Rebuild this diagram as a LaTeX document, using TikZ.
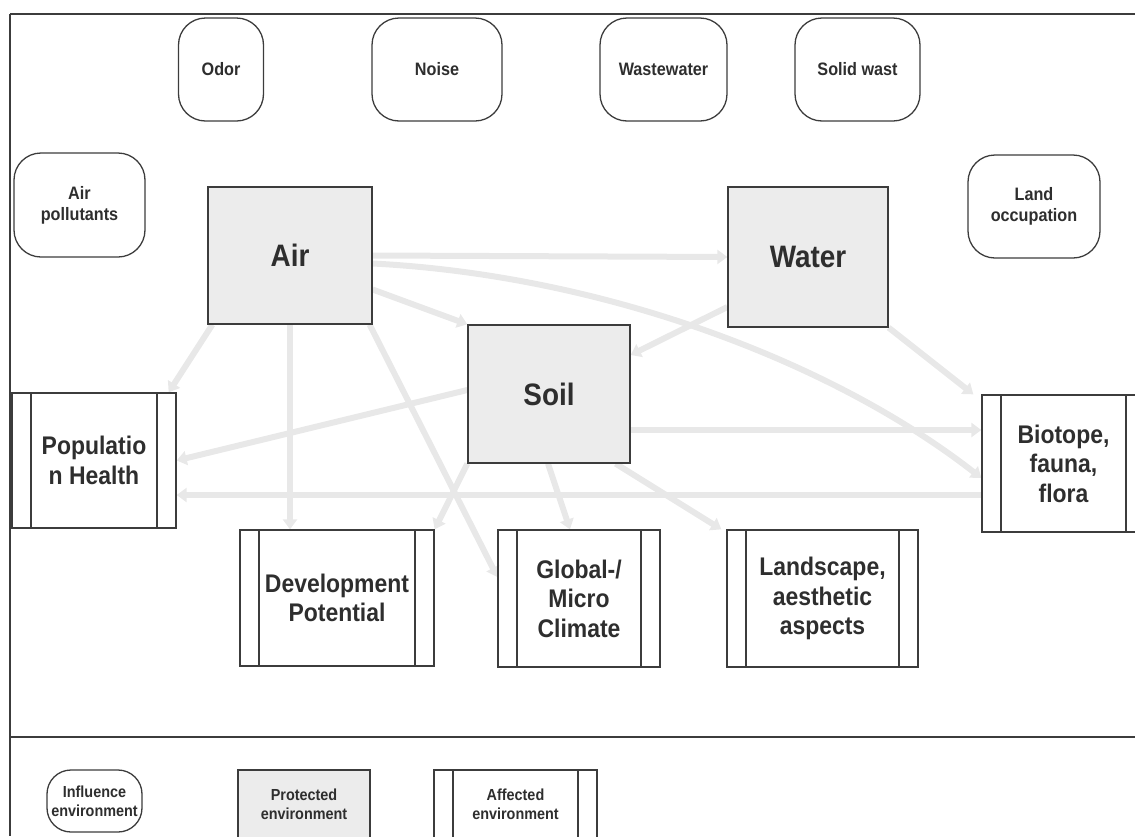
\documentclass[tikz,border=0pt]{standalone}
\usepackage{fontspec}
\setmainfont{Liberation Sans}[FakeStretch=0.9]
\usetikzlibrary{arrows.meta,backgrounds,calc}
\definecolor{boxline}{HTML}{3C3C3C}
\definecolor{protfill}{HTML}{ECECEC}
\definecolor{arrowc}{HTML}{E8E8E8}
\definecolor{txt}{HTML}{2E2E2E}
\begin{document}
\begin{tikzpicture}[x=1pt,y=-1pt,
  box/.style={draw=boxline, line width=1.3pt, align=center, text=txt, inner sep=0pt},
  infl/.style={box, rounded corners=27pt, font=\bfseries\fontsize{18}{21}\selectfont},
  prot/.style={box, fill=protfill, font=\bfseries\fontsize{31}{36}\selectfont},
  affe/.style={box, font=\bfseries\fontsize{25.5}{29.5}\selectfont,
    path picture={\draw[boxline, line width=1.3pt]
      ([xshift=19pt]path picture bounding box.north west) -- ([xshift=19pt]path picture bounding box.south west)
      ([xshift=-19pt]path picture bounding box.north east) -- ([xshift=-19pt]path picture bounding box.south east);}},
  leg/.style={font=\bfseries\fontsize{16}{19}\selectfont},
  conn/.style={draw=arrowc, line width=6pt, -{Triangle[length=10pt,width=14pt]}},
  frame/.style={draw=boxline, line width=1.3pt},
]
\useasboundingbox (0,0) rectangle (1135,836);
\clip (0,0) rectangle (1135,836);

% frame
\draw[frame] (10,14) -- (1135,14);
\draw[frame] (10,14) -- (10,836);
\draw[frame] (10,737) -- (1135,737);

% influence environment
\node[infl, minimum width=85pt, minimum height=103pt] (odor) at (221,69.5) {Odor};
\node[infl, minimum width=130pt, minimum height=103pt] (noise) at (437,69.5) {Noise};
\node[infl, minimum width=127pt, minimum height=103pt] (wastewater) at (663.5,69.5) {Wastewater};
\node[infl, minimum width=125pt, minimum height=103pt] (solid) at (857.5,69.5) {Solid wast};
\node[infl, minimum width=131pt, minimum height=104pt] (airpol) at (79.5,205) {Air\\pollutants};
\node[infl, minimum width=132pt, minimum height=103pt] (landocc) at (1034,206.5) {Land\\occupation};

% protected environment
\node[prot, minimum width=164pt, minimum height=137pt] (air) at (290,255.5) {Air};
\node[prot, minimum width=160pt, minimum height=140pt] (water) at (808,257) {Water};
\node[prot, minimum width=162pt, minimum height=138pt] (soil) at (549,394) {Soil};

% affected environment
\node[affe, minimum width=164pt, minimum height=135pt] (pop) at (94,460.5) {Populatio\\n Health};
\node[affe, minimum width=194pt, minimum height=136pt] (dev) at (337,598) {Development\\Potential};
\node[affe, minimum width=162pt, minimum height=137pt] (glob) at (579,598.5) {Global-/\\Micro\\Climate};
\node[affe, minimum width=191pt, minimum height=137pt] (land) at (822.5,598.5) {Landscape,\\aesthetic\\aspects};
\node[affe, minimum width=163pt, minimum height=137pt, text width=120pt] (bio) at (1063.5,463.5) {Biotope,\\fauna,\\flora};

% legend
\node[infl, leg, rounded corners=24pt, minimum width=95pt, minimum height=62pt] (legi) at (94.5,801) {Influence\\environment};
\node[prot, leg, minimum width=132pt, minimum height=68pt] (legp) at (304,804) {Protected\\environment};
\node[affe, leg, minimum width=163pt, minimum height=68pt] (lega) at (515.5,804) {Affected\\environment};

% connectors
\begin{scope}[on background layer]
\draw[conn] (air.east) -- (water.west);
\draw[conn] ([yshift=-8pt]air.east) .. controls (600,275) and (830,360) .. ([yshift=-14.5pt]bio.west);
\draw[conn] ([yshift=-34pt]air.east) -- (soil.north west);
\draw[conn] ([xshift=5pt]air.south west) -- ([xshift=-8pt]pop.north east);
\draw[conn] (air.south) -- (air.south |- dev.north);
\draw[conn] ([xshift=-3pt]air.south east) -- ([yshift=21.5pt]glob.west);
\draw[conn] ([yshift=-50pt]water.west) -- ([yshift=39pt]soil.east);
\draw[conn] (water.south east) -- ([xshift=-8pt]bio.north west);
\draw[conn] ([yshift=4pt]soil.west) -- (pop.east);
\draw[conn] ([yshift=-36pt]soil.east) -- ([yshift=-36pt]soil.east -| bio.west);
\draw[conn] ([yshift=-31.5pt]bio.west) -- ([yshift=-31.5pt]bio.west -| pop.east);
\draw[conn] (soil.south west) -- (dev.north east);
\draw[conn] ([xshift=-1pt]soil.south) -- ([xshift=-9pt]glob.north);
\draw[conn] ([xshift=-15pt]soil.south east) -- ([xshift=-5pt]land.north west);
\end{scope}
\end{tikzpicture}
\end{document}
